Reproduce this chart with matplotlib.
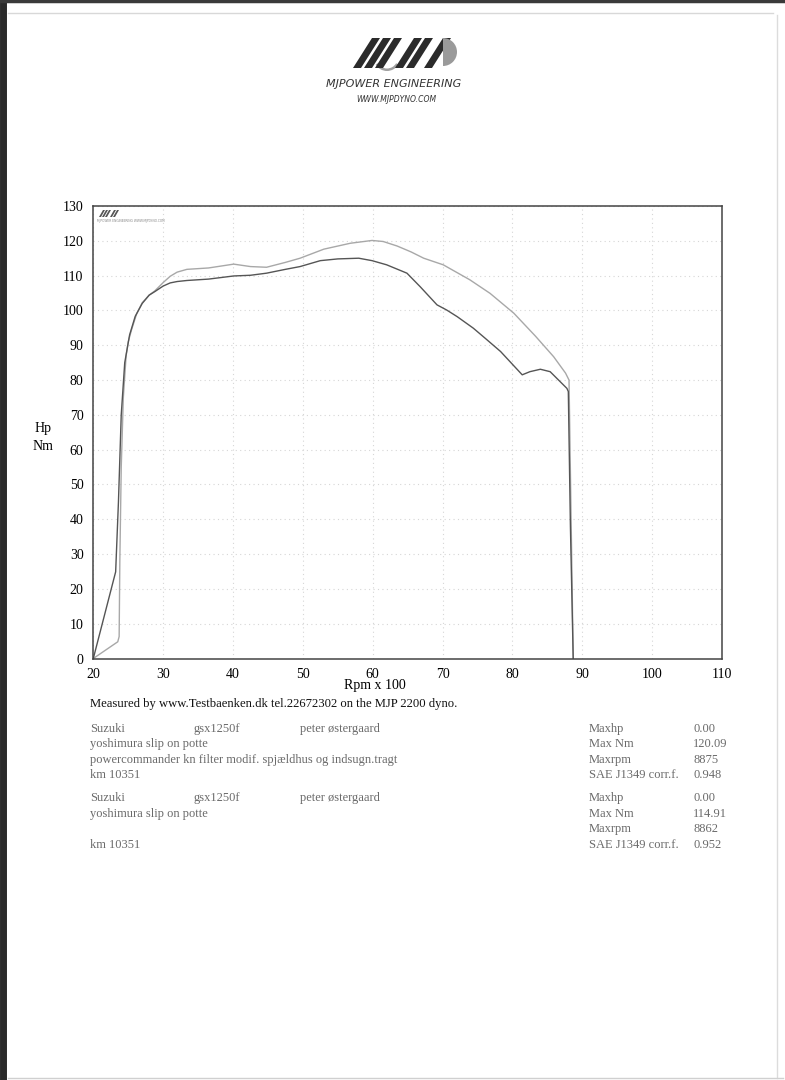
import matplotlib
matplotlib.use('Agg')
import matplotlib.pyplot as plt
from matplotlib.patches import Polygon, Wedge

W, H = 785, 1080

# run 1: powercommander + kn filter (light trace)
rpm_mod = [20.0, 23.5, 23.7, 23.8, 24.0, 24.3, 24.7, 25.0, 25.5, 26.2, 27.0, 28.0, 28.8,
           30.0, 31.0, 32.0, 33.4, 36.5, 40.1, 42.5, 44.8, 47.5, 49.6, 53.0, 56.8, 59.9,
           61.5, 63.5, 65.5, 67.3, 70.1, 73.9, 76.8, 80.2, 83.3, 85.9, 87.6, 88.1, 88.4, 88.7]
nm_mod = [0.0, 4.8, 6.3, 28.3, 55.0, 75.0, 87.0, 91.0, 94.6, 99.0, 102.2, 104.4, 105.6,
          108.0, 109.8, 111.0, 111.8, 112.2, 113.3, 112.6, 112.4, 113.8, 115.0, 117.6, 119.3,
          120.1, 119.8, 118.5, 116.8, 115.0, 113.1, 108.8, 104.9, 99.2, 92.6, 86.7, 82.0,
          80.0, 40.0, 0.0]

# run 2: stock (dark trace)
rpm_std = [20.0, 23.2, 23.6, 24.0, 24.5, 25.2, 26.0, 27.0, 28.0, 28.8, 30.0, 31.0, 32.0,
           33.4, 36.5, 40.1, 42.5, 44.8, 47.5, 49.6, 52.5, 55.0, 58.0, 59.9, 62.0, 64.9,
           66.8, 69.2, 70.6, 72.1, 74.4, 76.1, 78.3, 81.4, 82.5, 84.0, 85.4, 87.8, 88.0,
           88.3, 88.7]
nm_std = [0.0, 24.9, 45.0, 70.0, 85.0, 93.0, 98.3, 102.0, 104.4, 105.4, 107.0, 107.9, 108.3,
          108.6, 109.0, 109.9, 110.1, 110.7, 111.8, 112.6, 114.3, 114.8, 115.0, 114.3, 113.1,
          110.7, 106.8, 101.6, 100.1, 98.2, 94.9, 92.0, 88.2, 81.5, 82.4, 83.1, 82.4, 77.6,
          76.7, 38.0, 0.0]

x_ticks = [20, 30, 40, 50, 60, 70, 80, 90, 100, 110]
y_ticks = [0, 10, 20, 30, 40, 50, 60, 70, 80, 90, 100, 110, 120, 130]

run1_info = ['Suzuki', 'gsx1250f', 'peter østergaard', 'yoshimura slip on potte',
             'powercommander kn filter modif. spjældhus og indsugn.tragt', 'km 10351']
run2_info = ['Suzuki', 'gsx1250f', 'peter østergaard', 'yoshimura slip on potte',
             '', 'km 10351']
stat_names = ['Maxhp', 'Max Nm', 'Maxrpm', 'SAE J1349 corr.f.']
run1_stats = ['0.00', '120.09', '8875', '0.948']
run2_stats = ['0.00', '114.91', '8862', '0.952']

SERIF = 'Liberation Serif'
GRAY_TXT = '#6a6a6a'


def fx(px):
    return px / W


def fy(py):
    return 1 - py / H


fig = plt.figure(figsize=(W / 100, H / 100), dpi=100)
fig.patch.set_facecolor('white')

# scanned page edges
fig.add_artist(plt.Line2D([fx(3), fx(3)], [0, 1], color='#2a2a2a', lw=5))
fig.add_artist(plt.Line2D([0, 1], [fy(1), fy(1)], color='#3a3a3a', lw=2.5))
fig.add_artist(plt.Line2D([fx(8), fx(773)], [fy(13), fy(13)], color='#d8d8d8', lw=1))
fig.add_artist(plt.Line2D([fx(777), fx(777)], [fy(15), fy(1078)], color='#dcdcdc', lw=1))
fig.add_artist(plt.Line2D([fx(8), fx(783)], [fy(1078), fy(1078)], color='#d0d0d0', lw=1))

# logo
lg = fig.add_axes([0, 0, 1, 1], zorder=-1)
lg.set_xlim(0, W); lg.set_ylim(H, 0); lg.axis('off')
lg.add_patch(Wedge((387, 58), 13, 30, 150, width=2.5, color='#a0a0a0', lw=0))
for x0 in [353, 364, 375, 395, 406, 424]:
    lg.add_patch(Polygon([(x0, 68), (x0 + 8, 68), (x0 + 27, 38), (x0 + 19, 38)],
                         closed=True, color='#2b2b2b', lw=0))
lg.add_patch(Wedge((443, 52), 14, -90, 90, color='#9a9a9a', lw=0))
fig.text(fx(394), fy(84), 'MJPOWER ENGINEERING', ha='center', va='center',
         fontsize=8, style='italic', family='DejaVu Sans', color='#333333')
fig.text(fx(396), fy(100), 'WWW.MJPDYNO.COM', ha='center', va='center',
         fontsize=5.5, style='italic', family='DejaVu Sans', color='#333333')

# dyno chart
ax = fig.add_axes([fx(93.3), fy(658.5), fx(722) - fx(93.3), fy(206) - fy(658.5)])
ax.plot(rpm_mod, nm_mod, color='#a8a8a8', lw=1.0)
ax.plot(rpm_std, nm_std, color='#555555', lw=1.0)
ax.set_xlim(20, 110)
ax.set_ylim(0, 130)
ax.set_xticks(x_ticks)
ax.set_yticks(y_ticks)
ax.set_xticklabels([str(v) for v in x_ticks], family=SERIF, fontsize=10)
ax.set_yticklabels([str(v) for v in y_ticks], family=SERIF, fontsize=10)
ax.tick_params(length=0, pad=7)
ax.grid(True, color='#d6d6d6', ls=(0, (1, 3)), lw=0.8)
for s in ax.spines.values():
    s.set_color('#444444')
    s.set_linewidth(1.1)

# tiny logo inside plot
for x0 in [99, 102, 105, 110, 113]:
    lg2 = Polygon([(fx(x0), fy(217)), (fx(x0 + 2), fy(217)), (fx(x0 + 6), fy(210)), (fx(x0 + 4), fy(210))],
                  closed=True, color='#555555', lw=0, transform=fig.transFigure)
    fig.add_artist(lg2)
fig.text(fx(97), fy(221), 'MJPOWER ENGINEERING WWW.MJPDYNO.COM', fontsize=2.2,
         color='#888888', va='center')

fig.text(fx(375), fy(686), 'Rpm x 100', ha='center', va='center', family=SERIF, fontsize=10)
fig.text(fx(43), fy(429), 'Hp', ha='center', va='center', family=SERIF, fontsize=10)
fig.text(fx(43), fy(447), 'Nm', ha='center', va='center', family=SERIF, fontsize=10)

fig.text(fx(90), fy(704), 'Measured by www.Testbaenken.dk tel.22672302 on the MJP 2200 dyno.',
         ha='left', va='center', family=SERIF, fontsize=9.1, color='#111111')


def info_block(info, stats, rows):
    kw = dict(ha='left', va='center', family=SERIF, fontsize=9, color=GRAY_TXT)
    fig.text(fx(90), fy(rows[0]), info[0], **kw)
    fig.text(fx(194), fy(rows[0]), info[1], **kw)
    fig.text(fx(300), fy(rows[0]), info[2], **kw)
    fig.text(fx(90), fy(rows[1]), info[3], **kw)
    fig.text(fx(90), fy(rows[2]), info[4], **kw)
    fig.text(fx(90), fy(rows[3]), info[5], **kw)
    for r, name, val in zip(rows, stat_names, stats):
        fig.text(fx(589), fy(r), name, **kw)
        fig.text(fx(693), fy(r), val, **kw)


info_block(run1_info, run1_stats, [729, 744, 760, 775])
info_block(run2_info, run2_stats, [798, 814, 829, 845])

fig.savefig('out.png', dpi=100, facecolor='white')
